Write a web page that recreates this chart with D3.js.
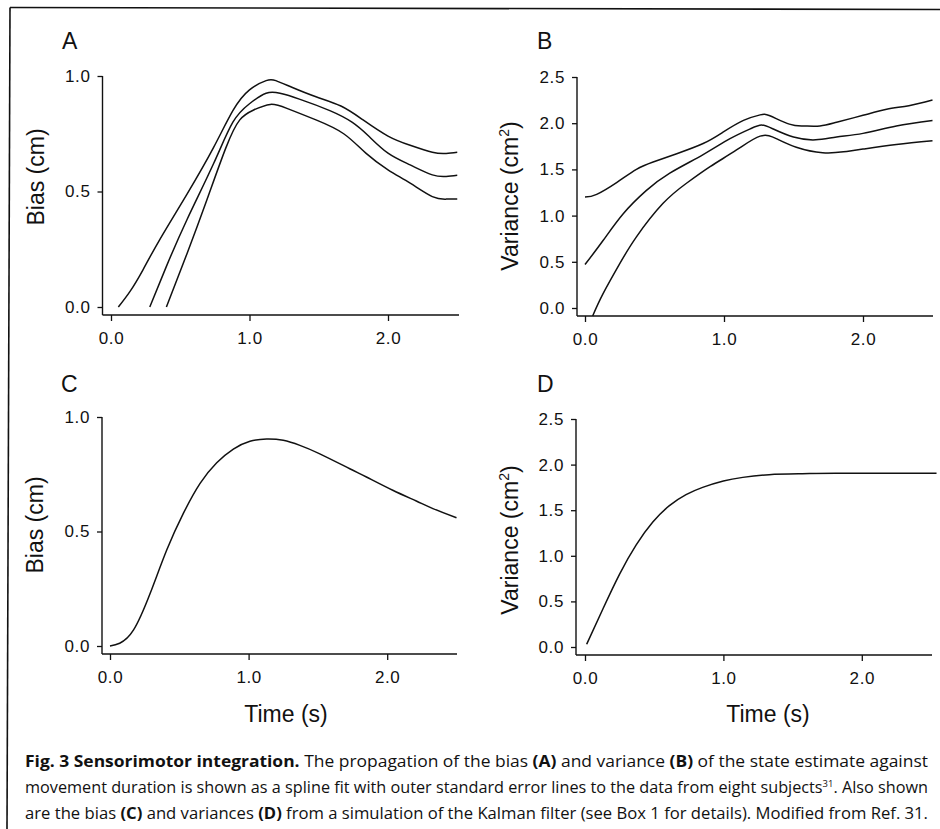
<!DOCTYPE html>
<html><head><meta charset="utf-8">
<script src="https://cdn.jsdelivr.net/npm/d3@7"></script>
<style>body{margin:0;background:#fff}svg{display:block}</style>
</head><body><svg id="c" width="940" height="829"></svg>
<script>
// ---- data ----
const timeTicks = [0, 1, 2];
const timeTickLabels = ["0.0", "1.0", "2.0"];
const biasTicks = [0, 0.5, 1];
const biasTickLabels = ["0.0", "0.5", "1.0"];
const varTicks = [0, 0.5, 1, 1.5, 2, 2.5];
const varTickLabels = ["0.0", "0.5", "1.0", "1.5", "2.0", "2.5"];

// Panel A: bias spline fit with standard error lines
const timeAUpper = [0.053, 0.14, 0.23, 0.35, 0.55, 0.74, 0.88, 1.0, 1.12, 1.19, 1.31, 1.48, 1.66, 1.82, 2.0, 2.16, 2.32, 2.42, 2.50];
const biasAUpper = [0, 0.07, 0.16, 0.29, 0.49, 0.69, 0.85, 0.94, 0.98, 0.98, 0.95, 0.91, 0.87, 0.81, 0.74, 0.70, 0.67, 0.665, 0.67];
const timeAMid = [0.28, 0.40, 0.55, 0.74, 0.88, 1.0, 1.12, 1.22, 1.36, 1.58, 1.74, 1.86, 2.0, 2.16, 2.32, 2.42, 2.50];
const biasAMid = [0, 0.176, 0.38, 0.62, 0.80, 0.88, 0.925, 0.925, 0.90, 0.85, 0.80, 0.74, 0.666, 0.615, 0.572, 0.565, 0.57];
const timeALower = [0.40, 0.55, 0.69, 0.83, 0.93, 1.03, 1.15, 1.27, 1.48, 1.68, 1.84, 2.0, 2.16, 2.32, 2.42, 2.50];
const biasALower = [0, 0.233, 0.46, 0.69, 0.81, 0.853, 0.877, 0.86, 0.81, 0.75, 0.666, 0.594, 0.536, 0.478, 0.467, 0.468];

// Panel B: variance spline fit with standard error lines
const timeBUpper = [0, 0.084, 0.23, 0.37, 0.49, 0.66, 0.85, 0.99, 1.14, 1.26, 1.33, 1.47, 1.57, 1.69, 1.81, 2.0, 2.17, 2.33, 2.50];
const varBUpper = [1.20, 1.23, 1.36, 1.50, 1.58, 1.67, 1.78, 1.90, 2.03, 2.09, 2.08, 1.99, 1.97, 1.97, 2.01, 2.085, 2.15, 2.19, 2.25];
const timeBMid = [0, 0.13, 0.275, 0.44, 0.61, 0.85, 1.04, 1.19, 1.27, 1.35, 1.50, 1.66, 1.81, 2.0, 2.24, 2.50];
const varBMid = [0.47, 0.73, 1.02, 1.27, 1.46, 1.66, 1.83, 1.94, 1.98, 1.94, 1.85, 1.82, 1.85, 1.89, 1.97, 2.03];
const timeBLower = [0.055, 0.13, 0.25, 0.37, 0.56, 0.73, 0.90, 1.09, 1.26, 1.38, 1.52, 1.71, 1.86, 2.0, 2.24, 2.50];
const varBLower = [-0.087, 0.155, 0.48, 0.77, 1.13, 1.35, 1.53, 1.71, 1.86, 1.83, 1.74, 1.68, 1.69, 1.72, 1.77, 1.81];

// Panel C: simulated bias (Kalman filter)
const timeC = [0, 0.07, 0.17, 0.29, 0.41, 0.53, 0.65, 0.77, 0.89, 1.01, 1.13, 1.25, 1.37, 1.51, 1.73, 1.85, 2.04, 2.21, 2.33, 2.50];
const biasC = [0, 0.012, 0.07, 0.23, 0.42, 0.58, 0.71, 0.80, 0.86, 0.894, 0.904, 0.898, 0.876, 0.84, 0.774, 0.738, 0.68, 0.633, 0.60, 0.56];

// Panel D: simulated variance (Kalman filter)
const timeD = [0.012, 0.13, 0.25, 0.37, 0.49, 0.61, 0.73, 0.85, 1.0, 1.14, 1.33, 1.57, 1.81, 2.2, 2.54];
const varD = [0.03, 0.42, 0.80, 1.12, 1.37, 1.55, 1.67, 1.75, 1.82, 1.86, 1.89, 1.90, 1.905, 1.905, 1.905];

const panelLetters = ["A", "B", "C", "D"];
const xTitle = "Time (s)";

// ---- drawing ----
const svg = d3.select("#c");
const FONT = "'Liberation Sans', Arial, Helvetica, sans-serif";

// frame
svg.append("line").attr("x1", 10).attr("y1", 7.5).attr("x2", 940).attr("y2", 9.5)
  .attr("stroke", "#111").attr("stroke-width", 1.6);
svg.append("line").attr("x1", 10).attr("y1", 7.5).attr("x2", 7).attr("y2", 829)
  .attr("stroke", "#111").attr("stroke-width", 1.6);

const zip = (xs, ys) => xs.map((x, i) => [x, ys[i]]);

const panels = [
  { letter: panelLetters[0], ymax: 1, yt: biasTicks, ytl: biasTickLabels,
    xr: [111, 457.25], yr: [307, 76], ax: 102.5, ay: 315, xend: 459,
    lx: 62, ly: 49, tx: 44, ty: 177, title: "Bias (cm)", sup: false,
    series: [zip(timeAUpper, biasAUpper), zip(timeAMid, biasAMid), zip(timeALower, biasALower)] },
  { letter: panelLetters[1], ymax: 2.5, yt: varTicks, ytl: varTickLabels,
    xr: [585, 932.5], yr: [308, 77], ax: 577, ay: 316, xend: 933,
    lx: 537, ly: 49, tx: 518, ty: 196, title: "Variance (cm", sup: true,
    series: [zip(timeBUpper, varBUpper), zip(timeBMid, varBMid), zip(timeBLower, varBLower)] },
  { letter: panelLetters[2], ymax: 1, yt: biasTicks, ytl: biasTickLabels,
    xr: [110, 456.5], yr: [646, 417], ax: 102, ay: 654, xend: 457,
    lx: 61, ly: 392, tx: 43, ty: 525, title: "Bias (cm)", sup: false,
    series: [zip(timeC, biasC)] },
  { letter: panelLetters[3], ymax: 2.5, yt: varTicks, ytl: varTickLabels,
    xr: [585, 931], yr: [647, 419], ax: 576, ay: 655, xend: 932,
    lx: 537, ly: 392, tx: 518, ty: 540, title: "Variance (cm", sup: true,
    series: [zip(timeD, varD)] }
];

panels.forEach(p => {
  const x = d3.scaleLinear().domain([0, 2.5]).range(p.xr);
  const y = d3.scaleLinear().domain([0, p.ymax]).range(p.yr);
  const g = svg.append("g");

  // y axis
  const ya = d3.axisLeft(y).tickValues(p.yt).tickFormat((d, i) => p.ytl[i])
    .tickSize(5).tickPadding(7).tickSizeOuter(0);
  const gy = g.append("g").attr("transform", `translate(${p.ax},0)`).call(ya);
  gy.select(".domain").remove();
  gy.selectAll("line").attr("stroke", "#111").attr("stroke-width", 1.3);
  gy.selectAll("text").attr("font-family", FONT).attr("font-size", 17)
    .attr("letter-spacing", "0.6px").attr("fill", "#111");
  g.append("line").attr("x1", p.ax).attr("x2", p.ax).attr("y1", y(p.ymax)).attr("y2", p.ay)
    .attr("stroke", "#111").attr("stroke-width", 1.4);

  // x axis
  const xa = d3.axisBottom(x).tickValues(timeTicks).tickFormat((d, i) => timeTickLabels[i])
    .tickSize(6).tickPadding(11).tickSizeOuter(0);
  const gx = g.append("g").attr("transform", `translate(0,${p.ay})`).call(xa);
  gx.select(".domain").remove();
  gx.selectAll("line").attr("stroke", "#111").attr("stroke-width", 1.3);
  gx.selectAll("text").attr("font-family", FONT).attr("font-size", 17)
    .attr("letter-spacing", "0.6px").attr("fill", "#111");
  g.append("line").attr("x1", p.ax).attr("x2", p.xend).attr("y1", p.ay).attr("y2", p.ay)
    .attr("stroke", "#111").attr("stroke-width", 1.4);

  // curves
  const line = d3.line().x(d => x(d[0])).y(d => y(d[1])).curve(d3.curveNatural);
  p.series.forEach(s => {
    g.append("path").attr("d", line(s)).attr("fill", "none")
      .attr("stroke", "#111").attr("stroke-width", 1.5);
  });

  // panel letter
  g.append("text").attr("x", p.lx).attr("y", p.ly).text(p.letter)
    .attr("font-family", FONT).attr("font-size", 23).attr("fill", "#111");

  // y title
  const t = g.append("text").attr("transform", `translate(${p.tx},${p.ty}) rotate(-90)`)
    .attr("text-anchor", "middle").attr("font-family", FONT).attr("font-size", 23).attr("fill", "#111");
  t.append("tspan").text(p.title);
  if (p.sup) {
    t.append("tspan").attr("font-size", 14).attr("dy", -9).text("2");
    t.append("tspan").attr("dy", 9).text(")");
  }
});

// x titles
[[286, 722], [768, 722]].forEach(([cx, cy]) => {
  svg.append("text").attr("x", cx).attr("y", cy).attr("text-anchor", "middle")
    .attr("font-family", FONT).attr("font-size", 23).attr("fill", "#111").text(xTitle);
});

// caption
const CF = "'Open Sans', 'Noto Sans', sans-serif";
const captionLines = [
  [["Fig. 3 Sensorimotor integration.", true], [" The propagation of the bias ", false], ["(A)", true],
   [" and variance ", false], ["(B)", true], [" of the state estimate against", false]],
  [["movement duration is shown as a spline fit with outer standard error lines to the data from eight subjects", false],
   ["31", false, true], [". Also shown", false]],
  [["are the bias ", false], ["(C)", true], [" and variances ", false], ["(D)", true],
   [" from a simulation of the Kalman filter (see Box 1 for details). Modified from Ref. 31.", false]]
];
const capY = [767, 793, 819];
captionLines.forEach((parts, i) => {
  const t = svg.append("text").attr("x", 25).attr("y", capY[i])
    .attr("font-family", CF).attr("font-size", 15.5).attr("fill", "#111")
    .attr("textLength", 903).attr("lengthAdjust", "spacingAndGlyphs");
  parts.forEach(([s, b, sup]) => {
    const ts = t.append("tspan").text(s).attr("font-weight", b ? "bold" : "normal");
    if (sup) { ts.attr("font-size", 9).attr("dy", -6); }
    else if (i === 1 && s.startsWith(".")) { ts.attr("dy", 6); }
  });
});
</script></body></html>
